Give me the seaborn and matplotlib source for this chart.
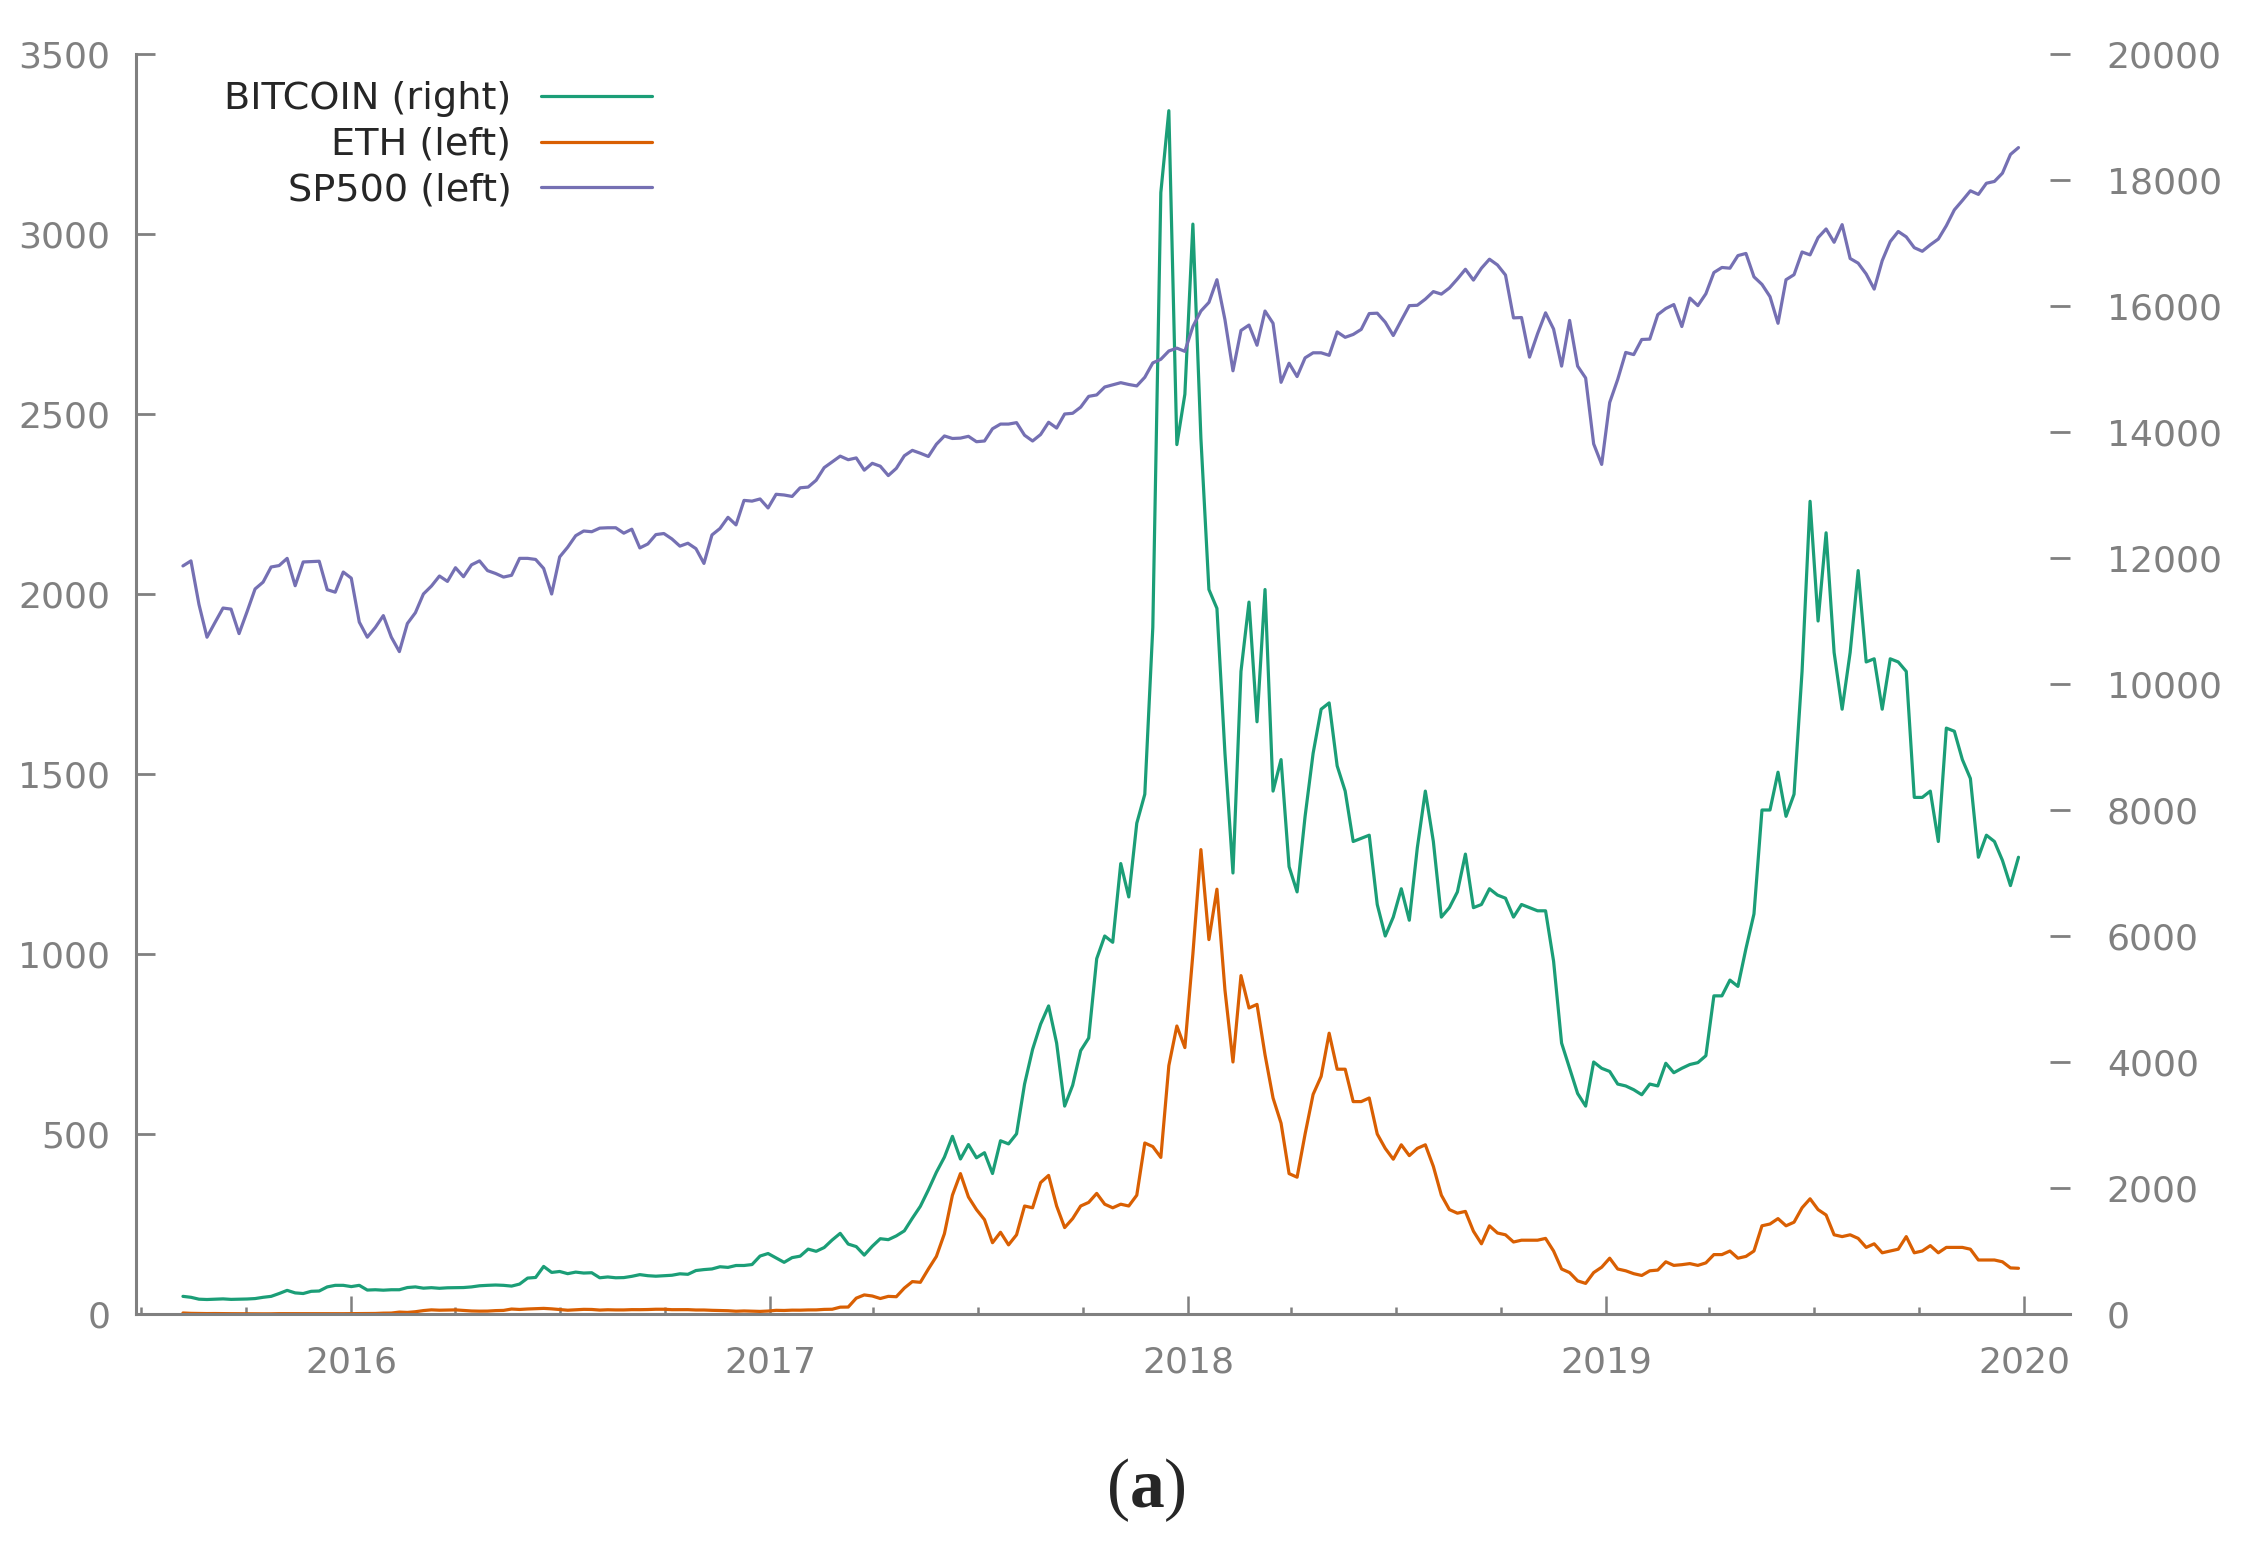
import pandas as pd
import matplotlib
matplotlib.use("Agg")
import matplotlib.pyplot as plt
import matplotlib.dates as mdates
from matplotlib.lines import Line2D
import seaborn as sns

# weekly values (Fridays), Aug 2015 - Dec 2019
btc_2015 = [280, 265, 235, 230, 235, 240, 232, 235, 238, 245, 265, 280, 325,
            375, 335, 325, 360, 365, 430, 455, 455]
btc_2016 = [435, 455, 380, 385, 378, 385, 385, 420, 430, 410, 418, 408, 416,
            418, 420, 430, 448, 455, 460, 455, 443, 475, 570, 580, 755, 660,
            675, 640, 665, 650, 655, 575, 588, 575, 578, 598, 625, 608, 600, 608,
            615, 638, 630, 690, 705, 715, 750, 740, 770, 770, 785, 920, 960]
btc_2017 = [890, 820, 895, 918, 1030, 995, 1055, 1175, 1280, 1110, 1070, 935, 1075,
            1195, 1180, 1240, 1320, 1520, 1710, 1970, 2250,
            2490, 2820, 2460, 2690, 2480, 2560, 2230, 2750, 2700,
            2860, 3650, 4200, 4600, 4890, 4300, 3300, 3630, 4180,
            4380, 5640, 6000, 5900, 7150, 6620, 7790, 8250,
            10900, 17800, 19100, 13800, 14600]
btc_2018 = [17300, 13900, 11500, 11200, 8900, 7000, 10200, 11300,
            9400, 11500, 8300, 8800, 7100, 6700, 7900, 8900, 9600,
            9700, 8700, 8300, 7500, 7550, 7600, 6500, 6000, 6300,
            6750, 6250, 7400, 8300, 7500, 6300, 6450, 6700, 7300,
            6450, 6500, 6750, 6650, 6600, 6300, 6500, 6450,
            6400, 6400, 5600, 4300, 3900, 3500, 3300, 4000, 3900]
btc_2019 = [3850, 3650, 3620, 3560, 3480, 3650, 3620, 3980,
            3830, 3900, 3960, 3990, 4100, 5050, 5050, 5300, 5200,
            5800, 6350, 8000, 8000, 8600, 7900, 8250, 10200, 12900,
            11000, 12400, 10500, 9600, 10500, 11800, 10350, 10400, 9600,
            10400, 10350, 10200, 8200, 8200, 8300, 7500, 9300,
            9250, 8800, 8500, 7250, 7600, 7500, 7200, 6800, 7250]

eth_2015 = [2.8, 1.8, 1.4, 1.2, 1.3, 1.0, 0.9, 0.75, 0.68, 0.62, 0.52, 0.57, 1.0,
            0.95, 0.93, 0.95, 0.89, 0.84, 0.88, 0.87, 0.86]
eth_2016 = [0.95, 0.98, 1.2, 1.5, 2.4, 2.6, 5.3, 4.4, 6.3, 9.5, 11.5, 10.5, 10.8,
            11.4, 9.9, 8.4, 7.9, 8.1, 9.4, 10.0, 13.8, 12.6, 13.9, 14.6, 15.6, 14.3,
            12.4, 10.5, 11.6, 12.9, 12.6, 10.9, 11.8, 11.3, 11.3,
            12.1, 12.0, 12.4, 13.2, 13.2, 12.0, 11.9, 12.1, 11.1,
            11.1, 10.2, 9.7, 9.1, 7.7, 8.5, 7.8, 7.2, 8.2]
eth_2017 = [10.2, 9.8, 10.7, 10.6, 11.3, 11.4, 12.8, 13.2, 19, 19.3, 44, 53, 50,
            43, 49, 48, 72, 90, 88, 125, 160, 223, 330, 390, 325, 290,
            262, 198, 227, 192, 220, 300, 295, 365, 385, 300, 240, 265, 300,
            310, 335, 305, 295, 305, 300, 330, 475, 465, 435, 690, 800, 740]
eth_2018 = [1000, 1290, 1040, 1180, 900, 700, 940, 850,
            860, 720, 600, 530, 390, 380, 500, 610, 660,
            780, 680, 680, 590, 590, 600, 500, 460, 430,
            470, 440, 460, 470, 410, 330, 290, 280, 285,
            230, 195, 245, 225, 220, 200, 205, 205,
            205, 210, 175, 125, 115, 92, 85, 115, 130]
eth_2019 = [155, 125, 120, 112, 107, 120, 122, 145, 135, 137, 140, 135, 142,
            165, 165, 175, 155, 160, 175, 245, 250, 265, 245, 255, 295, 320,
            290, 275, 220, 215, 220, 210, 185, 195, 170, 175, 180, 215, 170,
            175, 190, 170, 185, 185, 185, 180, 150, 150, 150, 145, 128, 127]

sp_2015 = [2078, 2092, 1971, 1880, 1921, 1961, 1958, 1890, 1951, 2014, 2033, 2075,
           2079, 2099, 2023, 2089, 2090, 2091, 2012, 2005, 2061]
sp_2016 = [2044, 1922, 1880, 1907, 1940, 1880, 1840, 1918, 1948, 2000, 2022, 2050,
           2035, 2073, 2048, 2081, 2092, 2065, 2057, 2047, 2052, 2099,
           2099, 2096, 2071, 2000, 2103, 2130, 2162, 2175, 2173,
           2183, 2184, 2184, 2169, 2180, 2128, 2139, 2165, 2168,
           2153, 2133, 2141, 2126, 2085, 2164, 2182, 2213,
           2192, 2260, 2258, 2264, 2239]
sp_2017 = [2277, 2275, 2271, 2295, 2297, 2316, 2351, 2367, 2383, 2373, 2378, 2344,
           2363, 2355, 2329, 2349, 2384, 2399, 2391, 2382, 2416,
           2439, 2432, 2433, 2438, 2423, 2425, 2459, 2472, 2472,
           2476, 2441, 2425, 2443, 2477, 2461, 2500, 2502, 2519,
           2549, 2553, 2575, 2581, 2587, 2582, 2578, 2602,
           2642, 2652, 2675, 2683, 2674]
sp_2018 = [2743, 2786, 2810, 2873, 2762, 2620, 2732, 2747, 2691, 2786, 2752, 2588,
           2641, 2604, 2656, 2670, 2670, 2663, 2728, 2713, 2721,
           2735, 2779, 2780, 2755, 2718, 2760, 2801, 2802, 2819,
           2840, 2833, 2850, 2875, 2902, 2872, 2905, 2930, 2914,
           2886, 2767, 2768, 2658, 2723, 2781, 2736, 2633, 2760,
           2633, 2600, 2417, 2360]
sp_2019 = [2532, 2596, 2671, 2665, 2707, 2708, 2776, 2793, 2804, 2743, 2822, 2801,
           2834, 2893, 2907, 2905, 2940, 2946, 2881, 2860, 2826, 2752,
           2873, 2887, 2950, 2942, 2990, 3014, 2977, 3026,
           2932, 2919, 2889, 2847, 2926, 2979, 3007, 2992, 2962,
           2952, 2970, 2986, 3023, 3067, 3093, 3120, 3110, 3141,
           3146, 3169, 3221, 3240]

btc = btc_2015 + btc_2016 + btc_2017 + btc_2018 + btc_2019
eth = eth_2015 + eth_2016 + eth_2017 + eth_2018 + eth_2019
sp500 = sp_2015 + sp_2016 + sp_2017 + sp_2018 + sp_2019

dates = pd.date_range("2015-08-07", periods=len(btc), freq="7D")
df = pd.DataFrame({"date": dates, "BITCOIN": btc, "ETH": eth, "SP500": sp500})

labels = ["BITCOIN (right)", "ETH (left)", "SP500 (left)"]

sns.set_style("ticks")
plt.rcParams["font.family"] = ["DejaVu Sans"]
plt.rcParams["mathtext.fontset"] = "custom"
plt.rcParams["mathtext.rm"] = "Liberation Serif"
plt.rcParams["mathtext.bf"] = "Liberation Serif:bold"

colors = sns.color_palette("Dark2", 3)
grey = "#808080"

W, H = 2246, 1548
fig = plt.figure(figsize=(W / 100, H / 100), dpi=100)
ax = fig.add_axes([136 / W, 1 - 1314 / H, (2070 - 136) / W, (1314 - 54) / H])
ax2 = ax.twinx()

sns.lineplot(data=df, x="date", y="BITCOIN", ax=ax2, color=colors[0], lw=2.3)
sns.lineplot(data=df, x="date", y="ETH", ax=ax, color=colors[1], lw=2.3)
sns.lineplot(data=df, x="date", y="SP500", ax=ax, color=colors[2], lw=2.3)

# left-axis lines drawn over the bitcoin line
ax.set_zorder(2)
ax2.set_zorder(1)
ax.patch.set_visible(False)

ax.set_xlim(pd.Timestamp("2015-06-27"), pd.Timestamp("2020-02-10"))
ax.set_ylim(0, 3500)
ax2.set_ylim(0, 20000)
ax.set_yticks(range(0, 3501, 500))
ax2.set_yticks(range(0, 20001, 2000))
ax.set_xlabel("")
ax.set_ylabel("")
ax2.set_ylabel("")

ax.xaxis.set_major_locator(mdates.YearLocator())
ax.xaxis.set_minor_locator(mdates.MonthLocator(bymonth=[4, 7, 10]))
ax.xaxis.set_major_formatter(mdates.DateFormatter("%Y"))

ax.tick_params(axis="x", which="major", direction="in", length=13, width=1.8,
               color=grey, labelcolor=grey, labelsize=26, pad=23)
ax.tick_params(axis="x", which="minor", direction="in", length=5, width=1.8, color=grey)
ax.tick_params(axis="y", direction="in", length=13.5, width=2, color=grey,
               labelcolor=grey, labelsize=26, pad=18.5)
ax2.tick_params(axis="y", direction="in", length=14.5, width=2, color=grey,
                labelcolor=grey, labelsize=26, pad=26.5)

for side in ["top", "right"]:
    ax.spines[side].set_visible(False)
for side in ["left", "bottom"]:
    ax.spines[side].set_color(grey)
    ax.spines[side].set_linewidth(2.2)
for s in ax2.spines.values():
    s.set_visible(False)

handles = [Line2D([], [], color=c, lw=2.3) for c in colors]
fig.legend(handles, labels, loc="upper right", bbox_to_anchor=(652 / W, 1 - 81 / H),
           frameon=False, markerfirst=False, fontsize=27.5, handlelength=2.9,
           handletextpad=0.78, labelspacing=0.26, borderpad=0, borderaxespad=0)

fig.text(1146 / W, 1 - 1490 / H, "(" + r"$\mathbf{a}$" + ")", ha="center", va="center",
         fontsize=50, family="Liberation Serif")

fig.savefig("out.png", dpi=100)
